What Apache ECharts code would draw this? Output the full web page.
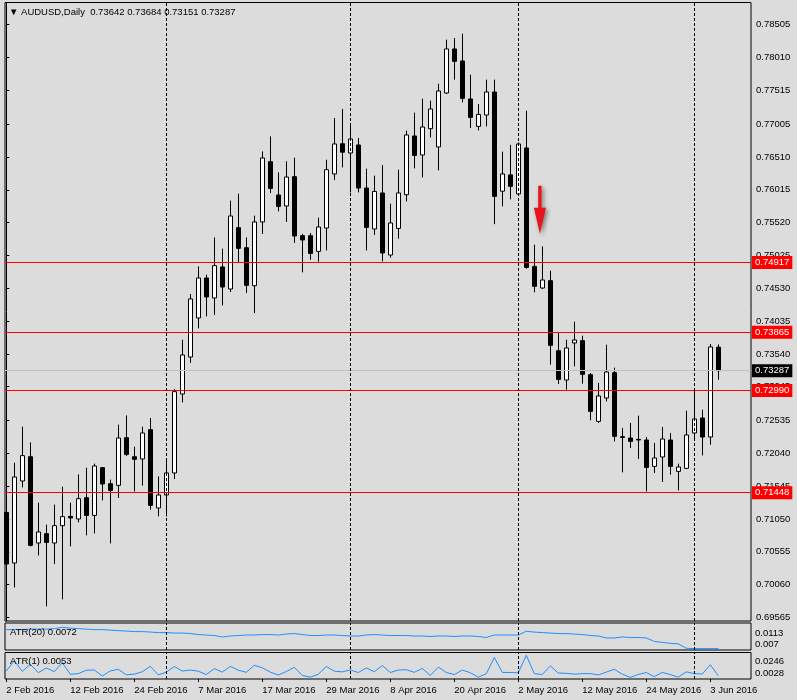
<!DOCTYPE html>
<html>
<head>
<meta charset="utf-8">
<title>AUDUSD Daily</title>
<style>
  html, body { margin: 0; padding: 0; background: #dcdcdc; }
  #chart { width: 797px; height: 700px; }
</style>
<script src="https://cdn.jsdelivr.net/npm/echarts@6/dist/echarts.min.js"></script>
</head>
<body>
<div id="chart"></div>
<script>
// trading days shown on the chart
const dates = [
  '2 Feb 2016','3 Feb 2016','4 Feb 2016','5 Feb 2016','8 Feb 2016','9 Feb 2016','10 Feb 2016','11 Feb 2016','12 Feb 2016','15 Feb 2016',
  '16 Feb 2016','17 Feb 2016','18 Feb 2016','19 Feb 2016','22 Feb 2016','23 Feb 2016','24 Feb 2016','25 Feb 2016','26 Feb 2016','29 Feb 2016',
  '1 Mar 2016','2 Mar 2016','3 Mar 2016','4 Mar 2016','7 Mar 2016','8 Mar 2016','9 Mar 2016','10 Mar 2016','11 Mar 2016','14 Mar 2016',
  '15 Mar 2016','16 Mar 2016','17 Mar 2016','18 Mar 2016','21 Mar 2016','22 Mar 2016','23 Mar 2016','24 Mar 2016','25 Mar 2016','28 Mar 2016',
  '29 Mar 2016','30 Mar 2016','31 Mar 2016','1 Apr 2016','4 Apr 2016','5 Apr 2016','6 Apr 2016','7 Apr 2016','8 Apr 2016','11 Apr 2016',
  '12 Apr 2016','13 Apr 2016','14 Apr 2016','15 Apr 2016','18 Apr 2016','19 Apr 2016','20 Apr 2016','21 Apr 2016','22 Apr 2016','25 Apr 2016',
  '26 Apr 2016','27 Apr 2016','28 Apr 2016','29 Apr 2016','2 May 2016','3 May 2016','4 May 2016','5 May 2016','6 May 2016','9 May 2016',
  '10 May 2016','11 May 2016','12 May 2016','13 May 2016','16 May 2016','17 May 2016','18 May 2016','19 May 2016','20 May 2016','23 May 2016',
  '24 May 2016','25 May 2016','26 May 2016','27 May 2016','30 May 2016','31 May 2016','1 Jun 2016','2 Jun 2016','3 Jun 2016','6 Jun 2016'
];

const opens = [
  0.71151,0.70387,0.71624,0.71990,0.70689,0.70829,0.70689,0.70950,0.71090,0.71051,
  0.71372,0.71105,0.71825,0.71583,0.71558,0.72277,0.71990,0.71956,0.72398,0.71217,
  0.71413,0.71745,0.72936,0.73494,0.74082,0.74685,0.74384,0.74851,0.74519,0.75444,
  0.75142,0.74569,0.75530,0.76439,0.75937,0.75771,0.76213,0.75323,0.75323,0.75086,
  0.75439,0.76254,0.76710,0.76570,0.76691,0.76042,0.75424,0.75967,0.75032,0.75433,
  0.75941,0.76827,0.76540,0.76937,0.76661,0.77475,0.78139,0.77958,0.77385,0.76971,
  0.77143,0.77490,0.75994,0.76240,0.75952,0.76646,0.74860,0.74534,0.74645,0.73589,
  0.73147,0.73705,0.73740,0.73227,0.72523,0.72876,0.73257,0.72292,0.72272,0.72251,
  0.72242,0.71844,0.71986,0.72242,0.71769,0.71814,0.72348,0.72574,0.72287,0.73642
];
const highs = [
  0.71292,0.71900,0.72443,0.72206,0.71297,0.70965,0.71267,0.71538,0.71297,0.71724,
  0.71825,0.71885,0.71835,0.71644,0.72473,0.72613,0.72141,0.72443,0.72574,0.71693,
  0.71945,0.73011,0.73755,0.74444,0.74860,0.74735,0.75297,0.75127,0.75851,0.75956,
  0.75297,0.75625,0.76594,0.76821,0.76278,0.76444,0.76499,0.75350,0.75364,0.75595,
  0.76469,0.77098,0.77234,0.77023,0.76796,0.76333,0.76228,0.76389,0.75806,0.76318,
  0.76907,0.77178,0.77389,0.77359,0.77615,0.78279,0.78304,0.78369,0.77751,0.77309,
  0.77676,0.77676,0.76590,0.76692,0.76730,0.77208,0.75187,0.75162,0.74795,0.73856,
  0.73755,0.74026,0.73815,0.73253,0.73102,0.73679,0.73333,0.72423,0.72499,0.72609,
  0.72287,0.72197,0.72438,0.72348,0.71885,0.72684,0.72990,0.72699,0.73690,0.73684
];
const lows = [
  0.70336,0.70019,0.71527,0.70638,0.70502,0.69733,0.70372,0.69839,0.70638,0.71000,
  0.70804,0.70834,0.71331,0.70683,0.71368,0.72001,0.71467,0.71553,0.71191,0.71090,
  0.71090,0.71654,0.72809,0.73403,0.73925,0.74106,0.74127,0.74272,0.74474,0.74927,
  0.74459,0.74157,0.75349,0.75967,0.75690,0.75530,0.75213,0.74770,0.74961,0.74931,
  0.75101,0.76163,0.76353,0.75976,0.75976,0.75101,0.75334,0.74936,0.74991,0.75278,
  0.75840,0.76338,0.76202,0.76805,0.76308,0.77460,0.77676,0.77333,0.76947,0.76911,
  0.76971,0.75497,0.75765,0.75871,0.75941,0.74825,0.74468,0.74520,0.73378,0.73087,
  0.73001,0.73352,0.73091,0.72538,0.72499,0.72824,0.72221,0.71754,0.72122,0.71956,
  0.71467,0.71745,0.71609,0.71719,0.71482,0.71805,0.72272,0.72010,0.72171,0.73151
];
const closes = [
  0.70372,0.71684,0.72006,0.70653,0.70855,0.70698,0.70950,0.71086,0.71066,0.71357,
  0.71105,0.71850,0.71579,0.71482,0.72272,0.72025,0.71950,0.72348,0.71256,0.71413,
  0.71745,0.72971,0.73524,0.74369,0.74685,0.74399,0.74871,0.74549,0.75620,0.75132,
  0.74574,0.75530,0.76495,0.76036,0.75765,0.76208,0.75319,0.75258,0.75056,0.75454,
  0.76318,0.76706,0.76582,0.76781,0.76042,0.75448,0.75991,0.75062,0.75515,0.75967,
  0.76842,0.76534,0.76962,0.77234,0.77505,0.78139,0.77952,0.77394,0.77107,0.77152,
  0.77490,0.75916,0.76254,0.76067,0.76706,0.74845,0.74559,0.74655,0.73669,0.73156,
  0.73630,0.73750,0.73232,0.72674,0.72906,0.73268,0.72297,0.72281,0.72221,0.72242,
  0.71829,0.71971,0.72257,0.71844,0.71835,0.72318,0.72559,0.72287,0.73645,0.73287
];

const atr20 = [
  0.01086,0.01086,0.01086,0.01096,0.01096,0.01096,0.01105,0.01130,0.01115,0.01105,
  0.01096,0.01086,0.01086,0.01077,0.01067,0.01058,0.01048,0.01048,0.01039,0.01029,
  0.01029,0.01020,0.01020,0.01010,0.00991,0.00982,0.00972,0.00944,0.00963,0.00972,
  0.00982,0.00982,0.00991,0.00991,0.00982,0.01001,0.01010,0.00991,0.00972,0.00972,
  0.00982,0.00982,0.00972,0.00963,0.00963,0.00982,0.00991,0.00982,0.00972,0.00972,
  0.00972,0.00963,0.00963,0.00953,0.00963,0.00963,0.00953,0.00963,0.00963,0.00953,
  0.00934,0.00982,0.00982,0.00982,0.00982,0.01054,0.01039,0.01029,0.01020,0.01010,
  0.01010,0.01001,0.00991,0.00972,0.00963,0.00925,0.00925,0.00944,0.00934,0.00934,
  0.00925,0.00859,0.00840,0.00821,0.00811,0.00726,0.00720,0.00720,0.00720,0.00720
];
const atr1 = [
  0.0096,0.0188,0.0092,0.0157,0.0080,0.0123,0.0090,0.0170,0.0066,0.0072,
  0.0102,0.0105,0.0050,0.0096,0.0111,0.0061,0.0067,0.0089,0.0138,0.0060,
  0.0086,0.0136,0.0095,0.0104,0.0094,0.0063,0.0117,0.0086,0.0138,0.0103,
  0.0084,0.0147,0.0125,0.0085,0.0059,0.0091,0.0129,0.0055,0.0040,0.0066,
  0.0137,0.0094,0.0088,0.0105,0.0082,0.0123,0.0089,0.0145,0.0082,0.0104,
  0.0107,0.0084,0.0119,0.0055,0.0131,0.0082,0.0063,0.0104,0.0080,0.0040,
  0.0071,0.0218,0.0083,0.0082,0.0079,0.0238,0.0072,0.0064,0.0142,0.0077,
  0.0075,0.0067,0.0072,0.0072,0.0060,0.0086,0.0111,0.0067,0.0038,0.0065,
  0.0082,0.0045,0.0083,0.0063,0.0040,0.0088,0.0072,0.0069,0.0152,0.0053
];

// axis labels and annotations
const priceTicks = ['0.78505','0.78010','0.77515','0.77005','0.76510','0.76015','0.75520','0.75025','0.74530','0.74035',
  '0.73540','0.73045','0.72535','0.72040','0.71545','0.71050','0.70555','0.70060','0.69565'];
const xLabels = ['2 Feb 2016','12 Feb 2016','24 Feb 2016','7 Mar 2016','17 Mar 2016','29 Mar 2016',
  '8 Apr 2016','20 Apr 2016','2 May 2016','12 May 2016','24 May 2016','3 Jun 2016'];
const separators = ['1 Mar 2016','1 Apr 2016','2 May 2016','1 Jun 2016'];
const levels = [0.74917, 0.73865, 0.72990, 0.71448];
const atr20Ticks = ['0.0113', '0.007'];
const atr1Ticks = ['0.0246', '0.0028'];
const arrow = { x: 66.7, top: 0.76077, tip: 0.75353 };

const FONT = '"Liberation Sans", Arial, sans-serif';
const chart = echarts.init(document.getElementById('chart'));

const last = dates.length - 1;
const lastPrice = closes[last];
const candles = dates.map((d, i) => [i, opens[i], closes[i], lows[i], highs[i]]);
const sepIdx = separators.map(d => dates.indexOf(d));
const labelIdx = xLabels.map(d => dates.indexOf(d));

// 8px per bar, bar 0 sits 1.3px right of the frame
const xMin = -0.1625, xMax = 93.0875;

const sepLines = () => sepIdx.map(i => ({
  xAxis: i,
  lineStyle: { color: '#000', type: [3, 2], width: 1 },
  label: { show: false }
}));

function tag(bg) {
  return {
    show: true, position: 'end', distance: 1,
    formatter: p => Number(p.value).toFixed(5),
    backgroundColor: bg, color: '#fff',
    padding: [2, 3, 1, 3], fontSize: 9.5, fontFamily: FONT
  };
}

function cornerLabels(ticks, padTop, padBottom) {
  const hi = Number(ticks[0]);
  return {
    show: true,
    customValues: ticks.map(Number),
    margin: 4,
    formatter: v => (v === hi ? '{t|' : '{b|') + v + '}',
    rich: {
      t: { fontSize: 9.5, fontFamily: FONT, color: '#000', padding: [padTop, 0, 0, 0] },
      b: { fontSize: 9.5, fontFamily: FONT, color: '#000', padding: [0, 0, padBottom, 0] }
    }
  };
}

const hiddenX = gi => ({
  type: 'value', gridIndex: gi, min: xMin, max: xMax, show: false
});

const textStyle = { fontSize: 9.5, fontWeight: 'normal', color: '#000', fontFamily: FONT };

chart.setOption({
  animation: false,
  backgroundColor: '#dcdcdc',
  title: [
    {
      text: '\u25BC AUDUSD,Daily  ' + [opens[last], highs[last], lows[last], closes[last]].map(v => v.toFixed(5)).join(' '),
      left: 9, top: 7, padding: 0, textStyle
    },
    { text: 'ATR(20) ' + atr20[last].toFixed(4), left: 10, top: 627.5, padding: 0, textStyle },
    { text: 'ATR(1) ' + atr1[last].toFixed(4), left: 10, top: 656.5, padding: 0, textStyle }
  ],
  grid: [
    { left: 5, right: 46, top: 2.5, height: 618.5, show: true, borderColor: '#000', borderWidth: 1, backgroundColor: 'transparent' },
    { left: 5, right: 46, top: 623, height: 27, show: true, borderColor: '#000', borderWidth: 1, backgroundColor: 'transparent' },
    { left: 5, right: 46, top: 652.5, height: 26.5, show: true, borderColor: '#000', borderWidth: 1, backgroundColor: 'transparent' }
  ],
  xAxis: [
    hiddenX(0),
    hiddenX(1),
    {
      type: 'value', gridIndex: 2, min: xMin, max: xMax,
      axisLine: { show: false },
      splitLine: { show: false },
      axisTick: { show: true, customValues: labelIdx, length: 3, inside: false, lineStyle: { color: '#000' } },
      axisLabel: {
        show: true, customValues: labelIdx, align: 'left', margin: 6,
        formatter: v => dates[v] || '',
        fontSize: 9.5, fontFamily: FONT, color: '#000'
      }
    }
  ],
  yAxis: [
    {
      type: 'value', gridIndex: 0, position: 'right',
      min: 0.695125, max: 0.788395,
      axisLine: { show: true, lineStyle: { color: '#000' } },
      splitLine: { show: false },
      axisTick: { show: true, customValues: priceTicks.map(Number), length: 3, lineStyle: { color: '#000' } },
      axisLabel: {
        show: true, customValues: priceTicks.map(Number), margin: 5,
        formatter: v => v.toFixed(5),
        fontSize: 9.5, fontFamily: FONT, color: '#000'
      }
    },
    {
      type: 'value', gridIndex: 1, position: 'right',
      min: 0.00693, max: 0.01214,
      axisLine: { show: false }, axisTick: { show: false }, splitLine: { show: false },
      axisLabel: cornerLabels(atr20Ticks, 12, 10)
    },
    {
      type: 'value', gridIndex: 2, position: 'right',
      min: 0.00233, max: 0.02629,
      axisLine: { show: false }, axisTick: { show: false }, splitLine: { show: false },
      axisLabel: cornerLabels(atr1Ticks, 14, 10)
    }
  ],
  series: [
    {
      // support / resistance levels and the current price, drawn under the candles
      name: 'levels',
      type: 'line',
      xAxisIndex: 0, yAxisIndex: 0,
      data: [],
      z: 1,
      markLine: {
        silent: true, symbol: ['none', 'none'], precision: 5, animation: false,
        data: [
          { yAxis: lastPrice, lineStyle: { color: '#c0c0c0', type: 'solid', width: 1 }, label: tag('#000000') },
          ...levels.map(v => ({ yAxis: v, lineStyle: { color: '#ff0000', type: 'solid', width: 1 }, label: tag('#ff0000') }))
        ]
      }
    },
    {
      name: 'AUDUSD',
      type: 'candlestick',
      xAxisIndex: 0, yAxisIndex: 0,
      data: candles,
      encode: { x: 0, y: [1, 2, 3, 4] },
      barWidth: 4,
      clip: true,
      z: 3,
      itemStyle: {
        color: '#ffffff', color0: '#000000',
        borderColor: '#000000', borderColor0: '#000000', borderColorDoji: '#000000',
        borderWidth: 1
      },
      markLine: {
        silent: true, symbol: ['none', 'none'], animation: false,
        data: sepLines()
      },
      markPoint: {
        silent: true, animation: false,
        data: [{
          coord: [arrow.x, (arrow.top + arrow.tip) / 2],
          symbol: 'path://M4.3,0 L7.7,0 L7.7,22 L12,22 L6,48 L0,22 L4.3,22 Z',
          symbolSize: [12, 48],
          itemStyle: { color: '#e8141b', shadowBlur: 4, shadowColor: 'rgba(0,0,0,0.45)', shadowOffsetX: 2, shadowOffsetY: 2 },
          label: { show: false }
        }]
      }
    },
    {
      name: 'ATR(20)',
      type: 'line',
      xAxisIndex: 1, yAxisIndex: 1,
      data: atr20.map((v, i) => [i, v]),
      symbol: 'none',
      lineStyle: { color: '#1e90ff', width: 1 },
      markLine: { silent: true, symbol: ['none', 'none'], animation: false, data: sepLines() }
    },
    {
      name: 'ATR(1)',
      type: 'line',
      xAxisIndex: 2, yAxisIndex: 2,
      data: atr1.map((v, i) => [i, v]),
      symbol: 'none',
      lineStyle: { color: '#1e90ff', width: 1 },
      markLine: { silent: true, symbol: ['none', 'none'], animation: false, data: sepLines() }
    }
  ]
});

window.addEventListener('resize', () => chart.resize());
</script>
</body>
</html>
